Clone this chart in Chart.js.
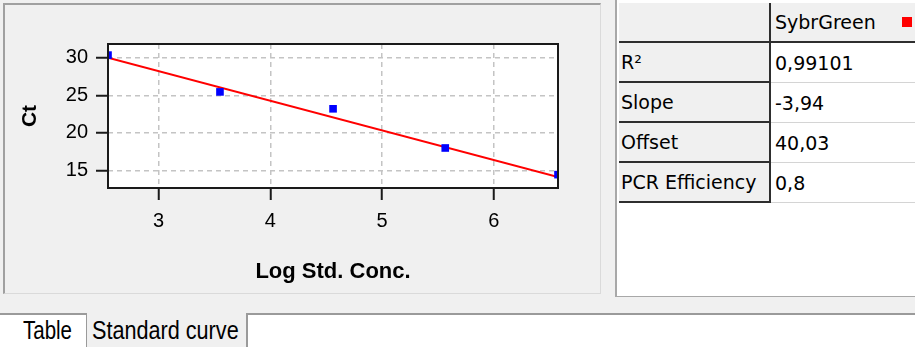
<!DOCTYPE html>
<html>
<head>
<meta charset="utf-8">
<script src="https://cdn.jsdelivr.net/npm/chart.js@4.4.1/dist/chart.umd.min.js"></script>
<style>
  body {
    margin: 0;
    width: 915px;
    height: 347px;
    overflow: hidden;
    position: relative;
    background: #f0f0f0;
    font-family: "DejaVu Sans", sans-serif;
  }
  .abs { position: absolute; }

  /* plot panel (sunken frame) */
  #plotPanel {
    left: 3px; top: 3px;
    width: 595px; height: 288px;
    border-top: 2px solid #a0a0a0;
    border-left: 2px solid #a0a0a0;
    border-right: 1px solid #dadada;
    border-bottom: 1px solid #dadada;
  }
  #curve { display: block; }

  /* results table */
  #tablePanel {
    left: 615px; top: 0;
    width: 298px; height: 296px;
    background: #fff;
    border-left: 2px solid #a8a8a8;
    border-bottom: 1px solid #a8a8a8;
  }
  #stats {
    position: absolute;
    left: 2px; top: 3px;
    border-collapse: separate;
    border-spacing: 0;
    font: 19px "DejaVu Sans", sans-serif;
    color: #000;
  }
  #stats th, #stats td {
    padding: 0;
    text-align: left;
    font-weight: normal;
    white-space: nowrap;
    vertical-align: middle;
  }
  #stats th {
    width: 148px;
    height: 38px;
    padding-left: 2px;
    background: #f0f0f0;
    border-bottom: 2px solid #2e2e2e;
    border-right: 2px solid #2e2e2e;
  }
  #stats td {
    width: 140px;
    height: 39px;
    padding-left: 4px;
    border-bottom: 1px solid #d4d4d4;
  }
  #stats th.colhead {
    width: 140px;
    padding-left: 4px;
    border-right: none;
  }
  #swatch {
    left: 902px; top: 17px;
    width: 10px; height: 10px;
    background: #ff0000;
  }

  /* bottom tabs */
  #tabLine { left: 0; top: 313px; width: 915px; height: 2px; background: #9a9a9a; }
  #tabArea { left: 0; top: 315px; width: 915px; height: 32px; background: #fff; }
  #tabSel {
    left: 86px; top: 313px;
    width: 159px; height: 34px;
    background: #f0f0f0;
    border-left: 1px solid #9a9a9a;
    border-right: 2px solid #9a9a9a;
  }
  .tab {
    top: 315px;
    font: 25px "Liberation Sans", sans-serif;
    line-height: 30px;
    color: #000;
    transform-origin: 0 0;
    white-space: nowrap;
  }
</style>
</head>
<body>

<div id="plotPanel" class="abs">
  <canvas id="curve" width="595" height="288"></canvas>
</div>

<div id="tablePanel" class="abs">
  <table id="stats"></table>
</div>
<div id="swatch" class="abs"></div>

<div id="tabLine" class="abs"></div>
<div id="tabArea" class="abs"></div>
<div id="tabSel" class="abs"></div>
<div class="abs tab" style="left:23px; transform:scaleX(0.82)">Table</div>
<div class="abs tab" style="left:92px; transform:scaleX(0.865)">Standard curve</div>

<script>
// =========================
// Data
// =========================
const logConc = [2.548, 3.55, 4.562, 5.566, 6.575];
const ctValues = [30.35, 25.45, 23.2, 17.98, 14.43];

// regression line end points (slope -3,94 / offset 40,03)
const fitLogConc = [2.548, 6.575];
const fitCt = [29.99, 14.12];

const xTicks = [3, 4, 5, 6];
const yTicks = [15, 20, 25, 30];
const xLimits = [2.548, 6.575];
const yLimits = [12.65, 31.83];

const seriesName = "SybrGreen";
const statNames = ["R²", "Slope", "Offset", "PCR Efficiency"];
const statValues = ["0,99101", "-3,94", "40,03", "0,8"];

// =========================
// Table
// =========================
let rows = `<tr><th></th><th class="colhead">${seriesName}</th></tr>`;
statNames.forEach((name, i) => {
  rows += `<tr><th>${name}</th><td>${statValues[i]}</td></tr>`;
});
document.getElementById("stats").innerHTML = rows;

// =========================
// Chart
// =========================
Chart.defaults.font.family = "Liberation Sans";
Chart.defaults.color = "#000";

// white plot background + black frame round the plot area
const plotFrame = {
  id: "plotFrame",
  beforeDraw(chart) {
    const { ctx, chartArea: a } = chart;
    ctx.save();
    ctx.fillStyle = "#fff";
    ctx.fillRect(a.left, a.top, a.width, a.height);
    ctx.restore();
  },
  afterDatasetsDraw(chart) {
    const { ctx, chartArea: a } = chart;
    ctx.save();
    ctx.strokeStyle = "#1a1a1a";
    ctx.lineWidth = 2;
    ctx.strokeRect(a.left, a.top, a.width, a.height);
    ctx.restore();
  },
};

const gridStyle = {
  color: "#c4c4c4",
  lineWidth: 1.5,
  tickLength: 12,
  tickWidth: 2,
  tickColor: "#1a1a1a",
  tickBorderDash: [],
};
// v4 reads the grid line dash from the border options
const borderStyle = { display: false, dash: [5, 4] };

new Chart(document.getElementById("curve"), {
  type: "scatter",
  data: {
    datasets: [
      {
        label: seriesName,
        data: logConc.map((x, i) => ({ x: x, y: ctValues[i] })),
        pointStyle: "rect",
        pointRadius: 5.4,
        pointBorderWidth: 0,
        backgroundColor: "#0000ff",
        clip: 0,
      },
      {
        label: "fit",
        data: fitLogConc.map((x, i) => ({ x: x, y: fitCt[i] })),
        showLine: true,
        borderColor: "#ff0000",
        borderWidth: 2,
        pointRadius: 0,
        clip: 0,
      },
    ],
  },
  options: {
    responsive: false,
    animation: false,
    events: [],
    layout: { padding: { left: 0, top: 39, right: 42, bottom: 0 } },
    plugins: {
      legend: { display: false },
      tooltip: { enabled: false },
    },
    scales: {
      x: {
        type: "linear",
        min: xLimits[0],
        max: xLimits[1],
        afterBuildTicks: (s) => { s.ticks = xTicks.map((v) => ({ value: v })); },
        afterFit: (s) => { s.height = 105; },
        grid: gridStyle,
        border: borderStyle,
        ticks: { font: { size: 20 }, padding: 9, maxRotation: 0 },
        title: {
          display: true,
          text: "Log Std. Conc.",
          font: { size: 22, weight: "bold" },
          padding: { bottom: 8 },
        },
      },
      y: {
        type: "linear",
        min: yLimits[0],
        max: yLimits[1],
        afterBuildTicks: (s) => { s.ticks = yTicks.map((v) => ({ value: v })); },
        afterFit: (s) => { s.width = 103; },
        grid: gridStyle,
        border: borderStyle,
        ticks: { font: { size: 20 }, padding: 8 },
        title: {
          display: true,
          text: "Ct",
          font: { size: 21, weight: "bold" },
          padding: { top: 13 },
        },
      },
    },
  },
  plugins: [plotFrame],
});
</script>
</body>
</html>
